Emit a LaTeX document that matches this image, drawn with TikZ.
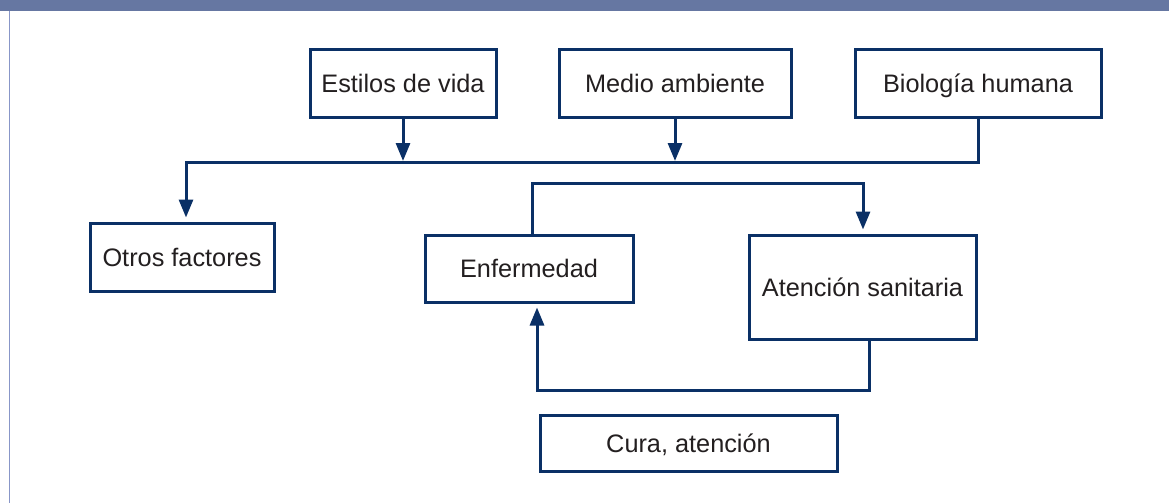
\documentclass[tikz,border=0pt]{standalone}
\usepackage{fontspec}
\setmainfont{Liberation Sans}
\usetikzlibrary{arrows.meta}
\definecolor{navy}{RGB}{10,48,102}
\definecolor{barcol}{RGB}{102,119,162}
\definecolor{edgecol}{RGB}{136,150,200}
\definecolor{txt}{RGB}{35,31,32}
\begin{document}
\begin{tikzpicture}[x=1pt,y=-1pt,
  box/.style={draw=navy, line width=3pt, fill=white, text=txt, inner sep=0pt,
    font=\fontsize{25.3}{30}\selectfont, text height=18pt, text depth=0pt, anchor=center},
  conn/.style={draw=navy, line width=3pt},
  arr/.style={conn, -{Triangle[length=18pt,width=14pt]}},
  arrbox/.style={arr, shorten >=4pt}]
\useasboundingbox (0,0) rectangle (1169,503);
\fill[white] (0,0) rectangle (1169,503);
\fill[barcol] (0,0) rectangle (1169,11);
\draw[edgecol, line width=1.4pt] (9.5,11) -- (9.5,503);

\node[box, minimum width=186pt, minimum height=68pt] (estilos) at (403,83.5) {Estilos de vida};
\node[box, minimum width=232pt, minimum height=67pt] (medio) at (675,83.5) {Medio ambiente};
\node[box, minimum width=246pt, minimum height=67pt] (bio) at (978,83.5) {Biología humana};
\node[box, minimum width=184pt, minimum height=68pt] (otros) at (182,257) {Otros factores};
\node[box, minimum width=208pt, minimum height=67pt] (enf) at (529,268.5) {Enfermedad};
\node[box, minimum width=227pt, minimum height=104pt] (aten) at (862.5,287) {Atención sanitaria};
\node[box, minimum width=297pt, minimum height=56pt] (cura) at (688.5,443) {Cura, atención};

\coordinate (bus) at (0,162);
\coordinate (busL) at (186,162);
\coordinate (topL) at (532,183);
\coordinate (topR) at (863,183);
\coordinate (botR) at (869,390);
\coordinate (botL) at (537,390);

\draw[arr] (estilos.south) -- ([yshift=1pt]estilos.south |- bus);
\draw[arr] (medio.south) -- ([yshift=1pt]medio.south |- bus);
\draw[arrbox] (bio.south) -- (bio.south |- bus) -- (busL) -- (busL |- otros.north);
\draw[arrbox] (topL |- enf.north) -- (topL) -- (topR) -- (topR |- aten.north);
\draw[arrbox] (botR |- aten.south) -- (botR) -- (botL) -- (botL |- enf.south);
\end{tikzpicture}
\end{document}
